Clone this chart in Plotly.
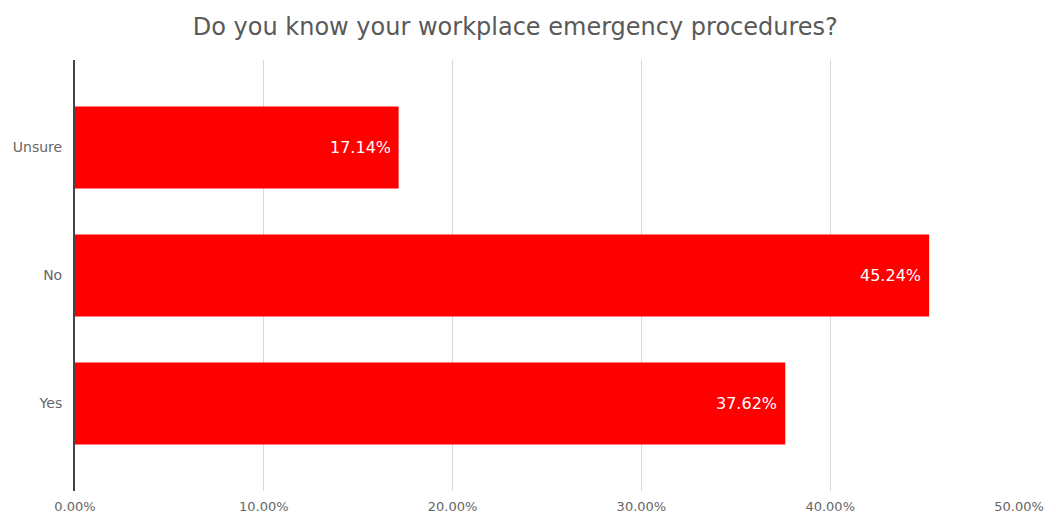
import plotly.graph_objects as go

categories = ["Yes", "No", "Unsure"]
values = [37.62, 45.24, 17.14]
x_ticks = [0, 10, 20, 30, 40, 50]
x_tick_labels = ["0.00%", "10.00%", "20.00%", "30.00%", "40.00%", "50.00%"]
title_text = "Do you know your workplace emergency procedures?"

FONT = "DejaVu Sans, Verdana, sans-serif"

fig = go.Figure(
    go.Bar(
        y=categories,
        x=values,
        orientation="h",
        marker=dict(color="#ff0000", line=dict(width=0)),
        width=0.64,
        hoverinfo="skip",
    )
)

# value labels placed just inside the end of each bar
for cat, val in zip(categories, values):
    fig.add_annotation(
        x=val,
        y=cat,
        text=f"{val:.2f}%",
        showarrow=False,
        xanchor="right",
        yanchor="middle",
        xshift=-6,
        font=dict(family=FONT, size=16, color="white"),
    )

fig.update_layout(
    width=1056,
    height=516,
    margin=dict(l=75, r=37, t=60, b=25),
    paper_bgcolor="white",
    plot_bgcolor="white",
    showlegend=False,
    title=dict(
        text=title_text,
        x=0.488,
        xanchor="center",
        y=0.948,
        yanchor="middle",
        font=dict(family=FONT, size=24, color="#595959"),
    ),
    xaxis=dict(
        range=[0, 50],
        tickvals=x_ticks,
        ticktext=x_tick_labels,
        showgrid=True,
        gridcolor="#d9d9d9",
        gridwidth=1,
        zeroline=False,
        showline=False,
        automargin=False,
        ticklabelstandoff=6,
        tickfont=dict(family=FONT, size=13, color="#666666"),
        fixedrange=True,
    ),
    yaxis=dict(
        categoryorder="array",
        categoryarray=categories,
        range=[-0.684, 2.684],
        showgrid=False,
        showline=True,
        linecolor="#444444",
        linewidth=2,
        ticks="",
        automargin=False,
        ticklabelstandoff=8,
        tickfont=dict(family=FONT, size=14, color="#666666"),
        fixedrange=True,
    ),
)

fig.write_html("out.html")
